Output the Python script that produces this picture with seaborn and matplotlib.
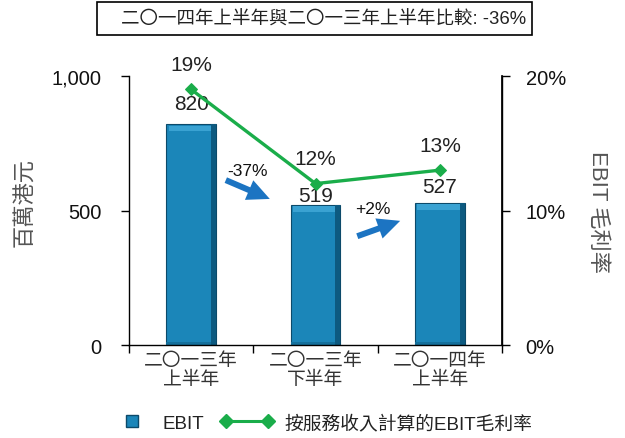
import numpy as np
import pandas as pd
import seaborn as sns
import matplotlib.pyplot as plt
from matplotlib.lines import Line2D
from matplotlib.patches import Rectangle
from matplotlib.ticker import FuncFormatter, PercentFormatter

# Half-year periods, EBIT (HK$ million) and EBIT margin on service revenue
periods = ["二〇一三年\n上半年", "二〇一三年\n下半年", "二〇一四年\n上半年"]
ebit = [820, 519, 527]
margin = [19, 12, 13]
change_labels = ["-37%", "+2%"]
title_text = "二〇一四年上半年與二〇一三年上半年比較: -36%"

sns.set_theme(style="white")
plt.rcParams["font.family"] = ["Liberation Sans", "Noto Sans CJK TC", "DejaVu Sans"]

BAR = "#1b86b9"
BAR_EDGE = "#0c4a6a"
GREEN = "#1aad4a"
ARROW = "#1c74c2"

fig = plt.figure(figsize=(6.25, 4.39), dpi=100)
ax = fig.add_axes([0.2064, 0.2118, 0.5968, 0.6128])

df = pd.DataFrame({"period": periods, "ebit": ebit})
sns.barplot(data=df, x="period", y="ebit", ax=ax, color=BAR, saturation=1,
            width=0.4, edgecolor=BAR_EDGE, linewidth=0.8)

ax.set_xlim(-0.5, 2.5)
ax.set_ylim(0, 1000)
ax.set_yticks([0, 500, 1000])
ax.yaxis.set_major_formatter(FuncFormatter(lambda v, p: f"{int(v):,}"))
ax.set_xlabel("")
ax.set_ylabel("百萬港元", fontsize=16, color="#555555", va="center")
ax.yaxis.set_label_coords(-0.278, 0.535)

for s in ["left", "right", "bottom"]:
    ax.spines[s].set_visible(True)
    ax.spines[s].set_color("black")
    ax.spines[s].set_linewidth(1.0)
ax.spines["top"].set_visible(False)

ax.tick_params(axis="y", which="major", direction="out", length=6, width=1,
               color="black", labelsize=14.5, pad=14, labelcolor="#111111", left=True)
ax.set_xticks([-0.5, 0.5, 1.5, 2.5], minor=True)
ax.tick_params(axis="x", which="minor", direction="out", length=6, width=1,
               color="black", bottom=True)
ax.tick_params(axis="x", which="major", length=0, labelsize=13.5, pad=5,
               labelcolor="#333333")
for lbl in ax.get_xticklabels():
    lbl.set_linespacing(1.15)

# Bevel shading on each bar
for patch in ax.patches:
    x0, w, h = patch.get_x(), patch.get_width(), patch.get_height()
    z = patch.get_zorder() + 0.1
    ax.add_patch(Rectangle((x0 + w * 0.05, h - 24), w * 0.85, 20,
                           facecolor="#3aa2d2", edgecolor="none", zorder=z))
    ax.add_patch(Rectangle((x0 + w * 0.9, 0), w * 0.1, h,
                           facecolor="#0d5a80", edgecolor="none", zorder=z))
    ax.add_patch(Rectangle((x0, 0), w * 0.9, 10,
                           facecolor="#14709c", edgecolor="none", zorder=z))

# EBIT value labels
bar_offsets = [8, 0, 5]
for i, (v, off) in enumerate(zip(ebit, bar_offsets)):
    ax.annotate(f"{v}", (i, v), xytext=(0, off), textcoords="offset points",
                ha="center", va="bottom", fontsize=15, color="#222222")

# Margin line on the secondary axis
ax2 = ax.twinx()
sns.lineplot(x=np.arange(len(margin)), y=margin, ax=ax2, color=GREEN, linewidth=2.4,
             marker="D", markersize=6, markeredgecolor=GREEN, zorder=5)
ax2.set_ylim(0, 20)
ax2.set_yticks([0, 10, 20])
ax2.yaxis.set_major_formatter(PercentFormatter(decimals=0))
ax2.set_ylabel("EBIT 毛利率", fontsize=16, color="#555555", rotation=-90, va="center")
ax2.yaxis.set_label_coords(1.256, 0.5)
ax2.tick_params(axis="y", which="major", direction="out", length=6, width=1,
                color="black", labelsize=14.5, pad=11, labelcolor="#111111", right=True)
for s in ["left", "right", "bottom", "top"]:
    ax2.spines[s].set_visible(False)
ax2.spines["right"].set_visible(True)
ax2.spines["right"].set_color("black")
ax2.set_xlim(-0.5, 2.5)

for i, m in enumerate(margin):
    ax2.annotate(f"{m}%", (i, m), xytext=(0, 18), textcoords="offset points",
                 ha="center", va="center", fontsize=15, color="#222222")

# Period-on-period change arrows
arrow_style = dict(arrowstyle="simple,head_length=0.9,head_width=0.85,tail_width=0.24",
                   color=ARROW, lw=0, mutation_scale=18)
ax.annotate("", xy=(0.653, 539), xytext=(0.258, 617), arrowprops=arrow_style)
ax.annotate("", xy=(1.702, 465), xytext=(1.315, 401), arrowprops=arrow_style)
ax.text(0.452, 647, change_labels[0], ha="center", va="center", fontsize=12.5, color="#111111")
ax.text(1.46, 509, change_labels[1], ha="center", va="center", fontsize=12.5, color="#111111")

# Boxed headline
fig.add_artist(Rectangle((97 / 625, 1 - 36 / 439), 435 / 625, 33 / 439,
                         transform=fig.transFigure, facecolor="white",
                         edgecolor="black", linewidth=1.2))
fig.text(324 / 625, 1 - 20 / 439, title_text, ha="center", va="center",
         fontsize=13.3, color="#222222")

# Legend
h1 = Line2D([], [], linestyle="none", marker="s", markersize=9,
            markerfacecolor=BAR, markeredgecolor=BAR_EDGE)
h2 = Line2D([], [], color=GREEN, linewidth=2.2, marker="D", markersize=7)
leg1 = fig.legend([h1], ["EBIT"], loc="center left", bbox_to_anchor=(106 / 625, 1 - 424 / 439),
                  frameon=False, fontsize=13.5, handlelength=1.0, handletextpad=1.1)
leg2 = fig.legend([h2], ["按服務收入計算的EBIT毛利率"], loc="center left",
                  bbox_to_anchor=(203 / 625, 1 - 424 / 439), frameon=False, fontsize=13.5,
                  handlelength=2.85, handletextpad=0.6, numpoints=2)
for t in leg1.get_texts() + leg2.get_texts():
    t.set_color("#222222")

fig.savefig("out.png", dpi=100)
